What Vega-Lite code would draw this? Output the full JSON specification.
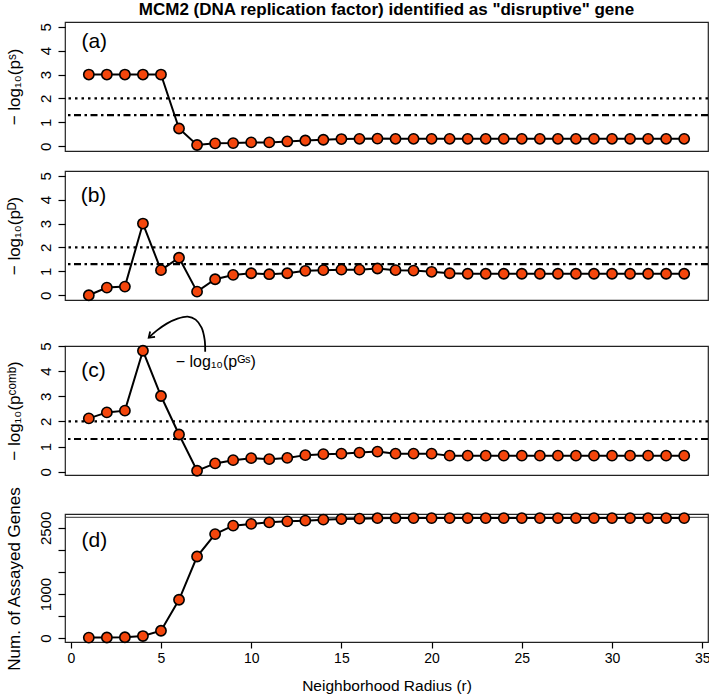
{
  "$schema": "https://vega.github.io/schema/vega-lite/v6.json",
  "padding": {"left": 4, "top": 0, "right": 0, "bottom": 0},
  "config": {
    "font": "Liberation Sans, DejaVu Sans",
    "view": {"stroke": "#222", "strokeWidth": 1.2},
    "axis": {"labelFont": "Liberation Sans, DejaVu Sans", "labelFontSize": 15, "labelColor": "black", "tickColor": "black", "tickSize": 7, "tickWidth": 1.2, "domain": false, "grid": false, "labelOverlap": false, "titleFont": "Liberation Sans, DejaVu Sans", "titleFontSize": 17, "titleFontWeight": "normal", "titleColor": "black"},
    "axisY": {"labelAngle": -90, "labelAlign": "center", "labelBaseline": "bottom", "labelPadding": 5, "format": "d", "titleX": -46, "titleY": 64.5, "titleAngle": -90, "titleAlign": "center", "titleBaseline": "alphabetic"}
  },
  "datasets": {
    "main": [
      {"r": 1, "ps": 3.0, "pd": 0.0, "pc": 2.12, "n": 10},
      {"r": 2, "ps": 3.0, "pd": 0.32, "pc": 2.36, "n": 12},
      {"r": 3, "ps": 3.0, "pd": 0.36, "pc": 2.43, "n": 18},
      {"r": 4, "ps": 3.0, "pd": 3.0, "pc": 4.81, "n": 45},
      {"r": 5, "ps": 3.0, "pd": 1.05, "pc": 3.01, "n": 165},
      {"r": 6, "ps": 0.74, "pd": 1.57, "pc": 1.48, "n": 868},
      {"r": 7, "ps": 0.05, "pd": 0.15, "pc": 0.04, "n": 1850},
      {"r": 8, "ps": 0.12, "pd": 0.67, "pc": 0.33, "n": 2359},
      {"r": 9, "ps": 0.13, "pd": 0.85, "pc": 0.46, "n": 2550},
      {"r": 10, "ps": 0.16, "pd": 0.92, "pc": 0.54, "n": 2590},
      {"r": 11, "ps": 0.16, "pd": 0.88, "pc": 0.5, "n": 2626},
      {"r": 12, "ps": 0.2, "pd": 0.92, "pc": 0.55, "n": 2648},
      {"r": 13, "ps": 0.24, "pd": 1.02, "pc": 0.66, "n": 2664},
      {"r": 14, "ps": 0.27, "pd": 1.05, "pc": 0.7, "n": 2687},
      {"r": 15, "ps": 0.3, "pd": 1.07, "pc": 0.72, "n": 2700},
      {"r": 16, "ps": 0.31, "pd": 1.07, "pc": 0.76, "n": 2710},
      {"r": 17, "ps": 0.32, "pd": 1.12, "pc": 0.8, "n": 2720},
      {"r": 18, "ps": 0.31, "pd": 1.05, "pc": 0.72, "n": 2722},
      {"r": 19, "ps": 0.31, "pd": 1.03, "pc": 0.72, "n": 2722},
      {"r": 20, "ps": 0.31, "pd": 0.98, "pc": 0.72, "n": 2722},
      {"r": 21, "ps": 0.31, "pd": 0.92, "pc": 0.64, "n": 2722},
      {"r": 22, "ps": 0.31, "pd": 0.9, "pc": 0.64, "n": 2722},
      {"r": 23, "ps": 0.31, "pd": 0.9, "pc": 0.64, "n": 2722},
      {"r": 24, "ps": 0.31, "pd": 0.9, "pc": 0.64, "n": 2722},
      {"r": 25, "ps": 0.31, "pd": 0.9, "pc": 0.64, "n": 2722},
      {"r": 26, "ps": 0.31, "pd": 0.9, "pc": 0.64, "n": 2722},
      {"r": 27, "ps": 0.31, "pd": 0.9, "pc": 0.64, "n": 2722},
      {"r": 28, "ps": 0.31, "pd": 0.9, "pc": 0.64, "n": 2722},
      {"r": 29, "ps": 0.31, "pd": 0.9, "pc": 0.64, "n": 2722},
      {"r": 30, "ps": 0.31, "pd": 0.9, "pc": 0.64, "n": 2722},
      {"r": 31, "ps": 0.31, "pd": 0.9, "pc": 0.64, "n": 2722},
      {"r": 32, "ps": 0.31, "pd": 0.9, "pc": 0.64, "n": 2722},
      {"r": 33, "ps": 0.31, "pd": 0.9, "pc": 0.64, "n": 2722},
      {"r": 34, "ps": 0.31, "pd": 0.9, "pc": 0.64, "n": 2722}
    ],
    "arrow": [
      {"i": 0, "r": 7.45, "pc": 4.77},
      {"i": 1, "r": 7.42, "pc": 5.25},
      {"i": 2, "r": 7.25, "pc": 5.73},
      {"i": 3, "r": 6.92, "pc": 6.05},
      {"i": 4, "r": 6.48, "pc": 6.17},
      {"i": 5, "r": 5.92, "pc": 6.09},
      {"i": 6, "r": 5.32, "pc": 5.89},
      {"i": 7, "r": 4.76, "pc": 5.61},
      {"i": 8, "r": 4.32, "pc": 5.33}
    ]
  },
  "spacing": 7,
  "vconcat": [
    {
      "bounds": "flush",
      "spacing": 20,
      "vconcat": [
        {
          "width": 643, "height": 129,
          "layer": [
            {"data": {"values": [{}]}, "mark": {"type": "rule", "color": "black", "strokeWidth": 2.2, "strokeDash": [2.5, 4]}, "encoding": {"y": {"datum": 2, "axis": {"values": [0, 1, 2, 3, 4, 5], "labelOverlap": false, "title": "− log₁₀(pˢ)"}}}},
            {"data": {"values": [{}]}, "mark": {"type": "rule", "color": "black", "strokeWidth": 2.2, "strokeDash": [7, 3.5, 2.5, 3.5]}, "encoding": {"y": {"datum": 1.30103, "axis": {"values": [0, 1, 2, 3, 4, 5], "labelOverlap": false, "title": "− log₁₀(pˢ)"}}}},
            {
              "data": {"name": "main"},
              "encoding": {
                "x": {"field": "r", "type": "quantitative", "scale": {"domain": [-0.32, 35.32], "nice": false, "zero": false}, "axis": null},
                "y": {"field": "ps", "type": "quantitative", "scale": {"domain": [-0.2, 5.2], "nice": false, "zero": false}, "axis": {"values": [0, 1, 2, 3, 4, 5], "labelOverlap": false, "title": "− log₁₀(pˢ)"}}
              },
              "layer": [
                {"mark": {"type": "line", "color": "black", "strokeWidth": 2}},
                {"mark": {"type": "point", "filled": true, "fill": "#F4460C", "stroke": "black", "strokeWidth": 1.6, "size": 105, "opacity": 1}}
              ]
            },
            {"data": {"values": [{}]}, "mark": {"type": "text", "fontSize": 21, "align": "center", "baseline": "middle", "color": "black"}, "encoding": {"x": {"datum": 1.3, "axis": null}, "y": {"datum": 4.37, "axis": {"values": [0, 1, 2, 3, 4, 5], "labelOverlap": false, "title": "− log₁₀(pˢ)"}}, "text": {"value": "(a)"}}},
            {"data": {"values": [{}]}, "mark": {"type": "text", "fontSize": 17, "fontWeight": "bold", "align": "center", "baseline": "middle", "color": "black"}, "encoding": {"x": {"datum": 17.5, "axis": null}, "y": {"datum": 5.71, "axis": {"values": [0, 1, 2, 3, 4, 5], "labelOverlap": false, "title": "− log₁₀(pˢ)"}}, "text": {"value": "MCM2 (DNA replication factor) identified as \"disruptive\" gene"}}}
          ]
        },
        {
          "width": 643, "height": 129,
          "layer": [
            {"data": {"values": [{}]}, "mark": {"type": "rule", "color": "black", "strokeWidth": 2.2, "strokeDash": [2.5, 4]}, "encoding": {"y": {"datum": 2, "axis": {"values": [0, 1, 2, 3, 4, 5], "labelOverlap": false, "title": "− log₁₀(pᴰ)"}}}},
            {"data": {"values": [{}]}, "mark": {"type": "rule", "color": "black", "strokeWidth": 2.2, "strokeDash": [7, 3.5, 2.5, 3.5]}, "encoding": {"y": {"datum": 1.30103, "axis": {"values": [0, 1, 2, 3, 4, 5], "labelOverlap": false, "title": "− log₁₀(pᴰ)"}}}},
            {
              "data": {"name": "main"},
              "encoding": {
                "x": {"field": "r", "type": "quantitative", "scale": {"domain": [-0.32, 35.32], "nice": false, "zero": false}, "axis": null},
                "y": {"field": "pd", "type": "quantitative", "scale": {"domain": [-0.2, 5.2], "nice": false, "zero": false}, "axis": {"values": [0, 1, 2, 3, 4, 5], "labelOverlap": false, "title": "− log₁₀(pᴰ)"}}
              },
              "layer": [
                {"mark": {"type": "line", "color": "black", "strokeWidth": 2}},
                {"mark": {"type": "point", "filled": true, "fill": "#F4460C", "stroke": "black", "strokeWidth": 1.6, "size": 105, "opacity": 1}}
              ]
            },
            {"data": {"values": [{}]}, "mark": {"type": "text", "fontSize": 21, "align": "center", "baseline": "middle", "color": "black"}, "encoding": {"x": {"datum": 1.26, "axis": null}, "y": {"datum": 4.15, "axis": {"values": [0, 1, 2, 3, 4, 5], "labelOverlap": false, "title": "− log₁₀(pᴰ)"}}, "text": {"value": "(b)"}}}
          ]
        }
      ]
    },
    {
      "bounds": "flush",
      "spacing": 39,
      "vconcat": [
        {
          "width": 643, "height": 129,
          "layer": [
            {"data": {"values": [{}]}, "mark": {"type": "rule", "color": "black", "strokeWidth": 2.2, "strokeDash": [2.5, 4]}, "encoding": {"y": {"datum": 2, "axis": {"values": [0, 1, 2, 3, 4, 5], "labelOverlap": false, "title": "− log₁₀(pᶜᵒᵐᵇ)"}}}},
            {"data": {"values": [{}]}, "mark": {"type": "rule", "color": "black", "strokeWidth": 2.2, "strokeDash": [7, 3.5, 2.5, 3.5]}, "encoding": {"y": {"datum": 1.30103, "axis": {"values": [0, 1, 2, 3, 4, 5], "labelOverlap": false, "title": "− log₁₀(pᶜᵒᵐᵇ)"}}}},
            {
              "data": {"name": "main"},
              "encoding": {
                "x": {"field": "r", "type": "quantitative", "scale": {"domain": [-0.32, 35.32], "nice": false, "zero": false}, "axis": null},
                "y": {"field": "pc", "type": "quantitative", "scale": {"domain": [-0.13, 5.0], "nice": false, "zero": false}, "axis": {"values": [0, 1, 2, 3, 4, 5], "labelOverlap": false, "title": "− log₁₀(pᶜᵒᵐᵇ)"}}
              },
              "layer": [
                {"mark": {"type": "line", "color": "black", "strokeWidth": 2}},
                {"mark": {"type": "point", "filled": true, "fill": "#F4460C", "stroke": "black", "strokeWidth": 1.6, "size": 105, "opacity": 1}}
              ]
            },
            {
              "data": {"name": "arrow"},
              "mark": {"type": "line", "color": "black", "strokeWidth": 1.8, "interpolate": "catmull-rom"},
              "encoding": {
                "x": {"field": "r", "type": "quantitative", "scale": {"domain": [-0.32, 35.32], "nice": false, "zero": false}, "axis": null},
                "y": {"field": "pc", "type": "quantitative", "scale": {"domain": [-0.13, 5.0], "nice": false, "zero": false}, "axis": {"values": [0, 1, 2, 3, 4, 5], "labelOverlap": false, "title": "− log₁₀(pᶜᵒᵐᵇ)"}},
                "order": {"field": "i", "type": "quantitative"}
              }
            },
            {
              "data": {"values": [{}]},
              "mark": {"type": "point", "shape": "M -0.7 1 L 0 0 L 0.7 1", "filled": false, "stroke": "black", "strokeWidth": 1.8, "size": 110, "angle": 228, "opacity": 1},
              "encoding": {"x": {"datum": 4.32, "axis": null}, "y": {"datum": 5.33, "axis": {"values": [0, 1, 2, 3, 4, 5], "labelOverlap": false, "title": "− log₁₀(pᶜᵒᵐᵇ)"}}}
            },
            {"data": {"values": [{}]}, "mark": {"type": "text", "fontSize": 16, "align": "left", "baseline": "middle", "color": "black"}, "encoding": {"x": {"datum": 5.82, "axis": null}, "y": {"datum": 4.38, "axis": {"values": [0, 1, 2, 3, 4, 5], "labelOverlap": false, "title": "− log₁₀(pᶜᵒᵐᵇ)"}}, "text": {"value": "− log₁₀(pᴳˢ)"}}},
            {"data": {"values": [{}]}, "mark": {"type": "text", "fontSize": 21, "align": "center", "baseline": "middle", "color": "black"}, "encoding": {"x": {"datum": 1.26, "axis": null}, "y": {"datum": 4.0, "axis": {"values": [0, 1, 2, 3, 4, 5], "labelOverlap": false, "title": "− log₁₀(pᶜᵒᵐᵇ)"}}, "text": {"value": "(c)"}}}
          ]
        },
        {
          "width": 643, "height": 128,
          "layer": [
            {"data": {"values": [{}]}, "mark": {"type": "rule", "color": "#333", "strokeWidth": 1}, "encoding": {"y": {"datum": 2740, "axis": {"values": [0, 500, 1000, 1500, 2000, 2500], "labelOverlap": false, "labelExpr": "datum.value == 0 || datum.value == 1000 || datum.value == 2500 ? datum.label : ''", "title": "Num. of Assayed Genes"}}}},
            {
              "data": {"name": "main"},
              "encoding": {
                "x": {"field": "r", "type": "quantitative", "scale": {"domain": [-0.32, 35.32], "nice": false, "zero": false}, "axis": {"values": [0, 5, 10, 15, 20, 25, 30, 35], "title": "Neighborhood Radius (r)", "labelAngle": 0, "labelFontSize": 14, "tickSize": 6, "labelPadding": 3, "titleFontSize": 15.5, "titlePadding": 13}},
                "y": {"field": "n", "type": "quantitative", "scale": {"domain": [-90, 2815], "nice": false, "zero": false}, "axis": {"values": [0, 500, 1000, 1500, 2000, 2500], "labelOverlap": false, "labelExpr": "datum.value == 0 || datum.value == 1000 || datum.value == 2500 ? datum.label : ''", "title": "Num. of Assayed Genes"}}
              },
              "layer": [
                {"mark": {"type": "line", "color": "black", "strokeWidth": 2}},
                {"mark": {"type": "point", "filled": true, "fill": "#F4460C", "stroke": "black", "strokeWidth": 1.6, "size": 105, "opacity": 1}}
              ]
            },
            {"data": {"values": [{}]}, "mark": {"type": "text", "fontSize": 21, "align": "center", "baseline": "middle", "color": "black"}, "encoding": {"x": {"datum": 1.31, "axis": {"values": [0, 5, 10, 15, 20, 25, 30, 35], "title": "Neighborhood Radius (r)", "labelAngle": 0, "labelFontSize": 14, "tickSize": 6, "labelPadding": 3, "titleFontSize": 15.5, "titlePadding": 13}}, "y": {"datum": 2192, "axis": {"values": [0, 500, 1000, 1500, 2000, 2500], "labelOverlap": false, "labelExpr": "datum.value == 0 || datum.value == 1000 || datum.value == 2500 ? datum.label : ''", "title": "Num. of Assayed Genes"}}, "text": {"value": "(d)"}}}
          ]
        }
      ]
    }
  ]
}
